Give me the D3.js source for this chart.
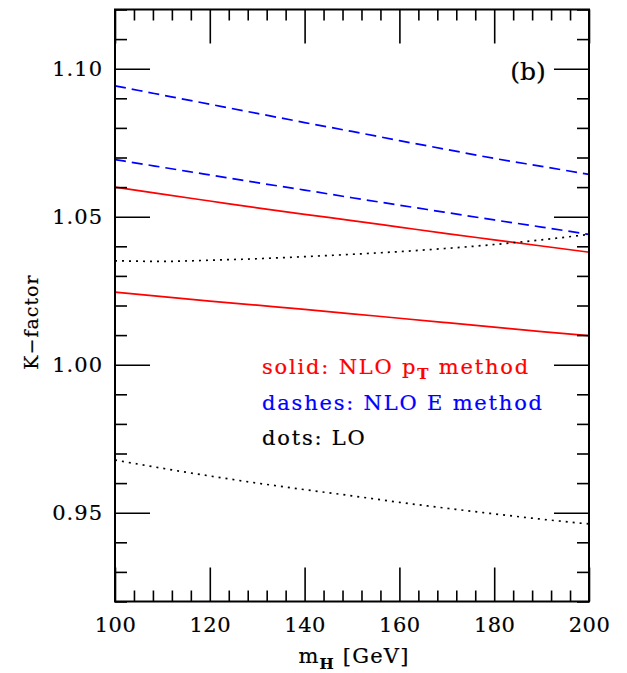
<!DOCTYPE html>
<html><head><meta charset="utf-8">
<script src="https://cdn.jsdelivr.net/npm/d3@7"></script>
<style>body{margin:0;background:#fff}svg{display:block}</style>
</head><body>
<script>
const mH = [100, 110, 120, 130, 140, 150, 160, 170, 180, 190, 200];
const solidUpper = [1.0600, 1.0576, 1.0553, 1.0530, 1.0508, 1.0487, 1.0465, 1.0443, 1.0422, 1.0401, 1.0380];
const solidLower = [1.0245, 1.0230, 1.0215, 1.0201, 1.0187, 1.0172, 1.0157, 1.0142, 1.0127, 1.0112, 1.0098];
const dashUpper = [1.0942, 1.0911, 1.0880, 1.0849, 1.0818, 1.0788, 1.0757, 1.0727, 1.0697, 1.0670, 1.0643];
const dashLower = [1.0693, 1.0667, 1.0641, 1.0615, 1.0590, 1.0564, 1.0539, 1.0514, 1.0489, 1.0465, 1.0440];
const dotUpper = [1.0351, 1.0349, 1.0353, 1.0358, 1.0365, 1.0373, 1.0382, 1.0393, 1.0406, 1.0422, 1.0440];
const dotLower = [0.9678, 0.9650, 0.9624, 0.9600, 0.9578, 0.9557, 0.9535, 0.9515, 0.9496, 0.9478, 0.9462];
const xMajor = [100, 120, 140, 160, 180, 200];
const yMajor = [0.95, 1.00, 1.05, 1.10];

const W = 627, H = 673;
const m = {l: 115, r: 589, t: 9.5, b: 601.5};
const svg = d3.select("body").append("svg").attr("width", W).attr("height", H);
const x = d3.scaleLinear().domain([100, 200]).range([m.l, m.r]);
const y = d3.scaleLinear().domain([0.92, 1.12]).range([m.b, m.t]);
const font = "'DejaVu Serif', 'Liberation Serif', serif";

const series = [
  {v: dashUpper, c: "#0000ff", d: "11,6"},
  {v: dashLower, c: "#0000ff", d: "11,6"},
  {v: solidUpper, c: "#ff0000", d: null},
  {v: solidLower, c: "#ff0000", d: null},
  {v: dotUpper, c: "#000", d: "2,5"},
  {v: dotLower, c: "#000", d: "2,5"}
];
const line = d3.line().x((d, i) => x(mH[i])).y(d => y(d)).curve(d3.curveMonotoneX);
const g = svg.append("g");
series.forEach(s => {
  g.append("path").attr("d", line(s.v)).attr("fill", "none")
    .attr("stroke", s.c).attr("stroke-width", 1.7)
    .attr("stroke-dasharray", s.d);
});

const xMinor = d3.range(100, 201, 4).filter(v => !xMajor.includes(v));
const yMinor = d3.range(92, 113, 1).map(v => v / 100).filter(v => !yMajor.some(t => Math.abs(t - v) < 1e-9));
function addAxis(axis, tr, size, vals) {
  const a = svg.append("g").attr("transform", tr)
    .call(axis.tickValues(vals).tickSize(size).tickFormat(""));
  a.select(".domain").remove();
  a.selectAll("line").attr("stroke", "#000").attr("stroke-width", 1.6);
  return a;
}
addAxis(d3.axisTop(x), `translate(0,${m.b})`, 34, xMajor);
addAxis(d3.axisTop(x), `translate(0,${m.b})`, 11, xMinor);
addAxis(d3.axisBottom(x), `translate(0,${m.t})`, 34, xMajor);
addAxis(d3.axisBottom(x), `translate(0,${m.t})`, 11, xMinor);
addAxis(d3.axisRight(y), `translate(${m.l},0)`, 35, yMajor);
addAxis(d3.axisRight(y), `translate(${m.l},0)`, 12, yMinor);
addAxis(d3.axisLeft(y), `translate(${m.r},0)`, 35, yMajor);
addAxis(d3.axisLeft(y), `translate(${m.r},0)`, 12, yMinor);

svg.append("rect").attr("x", m.l).attr("y", m.t).attr("width", m.r - m.l).attr("height", m.b - m.t)
  .attr("fill", "none").attr("stroke", "#000").attr("stroke-width", 2);

function heavy(sel, c) { return sel.attr("stroke", c).attr("stroke-width", 0.2); }

// tick labels
const xl = svg.append("g").attr("transform", `translate(0,${m.b})`)
  .call(d3.axisBottom(x).tickValues(xMajor).tickSize(0).tickPadding(16).tickFormat(d3.format("d")));
xl.select(".domain").remove();
heavy(xl.selectAll("text").attr("font-family", font).attr("font-size", 21).attr("letter-spacing", 0.5).attr("fill", "#000"), "#000");
const yl = svg.append("g").attr("transform", `translate(${m.l},0)`)
  .call(d3.axisLeft(y).tickValues(yMajor).tickSize(0).tickPadding(12).tickFormat(d3.format(".2f")));
yl.select(".domain").remove();
heavy(yl.selectAll("text").attr("font-family", font).attr("font-size", 21).attr("letter-spacing", 1).attr("fill", "#000"), "#000");

// axis titles
const xt = heavy(svg.append("text").attr("x", 354).attr("y", 663).attr("text-anchor", "middle")
  .attr("font-family", font).attr("font-size", 21).attr("letter-spacing", 1.2), "#000");
xt.append("tspan").text("m");
xt.append("tspan").attr("dy", 6).attr("font-size", 15).attr("font-weight", "bold").text("H");
xt.append("tspan").attr("dy", -6).text(" [GeV]");
heavy(svg.append("text").attr("transform", "translate(38,322) rotate(-90)").attr("text-anchor", "middle")
  .attr("font-family", font).attr("font-size", 19).attr("letter-spacing", 1).text("K\u2212factor"), "#000");

heavy(svg.append("text").attr("x", 528).attr("y", 80).attr("text-anchor", "middle")
  .attr("font-family", font).attr("font-size", 25).text("(b)"), "#000");

// legend
const lx = 262;
const ls = 1.8;
const t1 = heavy(svg.append("text").attr("x", lx).attr("y", 374).attr("font-family", font).attr("font-size", 21).attr("letter-spacing", ls).attr("fill", "#ff0000"), "#ff0000");
t1.append("tspan").text("solid: NLO p");
t1.append("tspan").attr("dy", 5).attr("font-size", 15).attr("font-weight", "bold").text("T");
t1.append("tspan").attr("dy", -5).text(" method");
heavy(svg.append("text").attr("x", lx).attr("y", 410).attr("font-family", font).attr("font-size", 21).attr("letter-spacing", ls).attr("fill", "#0000ff").text("dashes: NLO E method"), "#0000ff");
heavy(svg.append("text").attr("x", lx).attr("y", 445).attr("font-family", font).attr("font-size", 21).attr("letter-spacing", ls).attr("fill", "#000").text("dots: LO"), "#000");
</script>
</body></html>
